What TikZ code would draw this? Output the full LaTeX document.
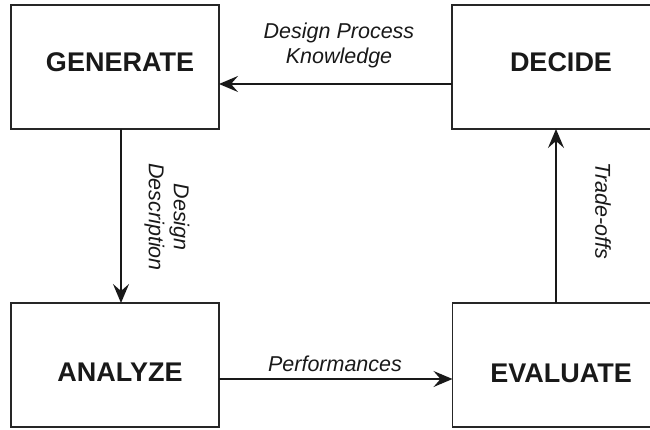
\documentclass[tikz,border=0pt]{standalone}
\usepackage{fontspec}
\setmainfont{Liberation Sans}
\usetikzlibrary{arrows.meta}
\tikzset{
  box/.style={draw=black!85, line width=1.5pt, minimum width=#1, inner sep=0pt, outer sep=0pt},
  boxtext/.style={font=\fontsize{27}{32}\selectfont\bfseries, inner sep=0pt, text=black!90},
  lbl/.style={font=\fontsize{21.5}{25}\selectfont\itshape, inner sep=0pt, text=black!90},
  arr/.style={line width=1.6pt, draw=black!90, -{Stealth[length=19pt,width=16pt,inset=7pt]}}
}
\begin{document}
\begin{tikzpicture}[x=1pt,y=-1pt]
\useasboundingbox (0,0) rectangle (650,430);
% boxes
\node[box=208pt, minimum height=124pt] (gen) at (115,67) {};
\node[box=210pt, minimum height=124pt] (dec) at (557,67) {};
\node[box=208pt, minimum height=124pt] (ana) at (115,365) {};
\node[box=210pt, minimum height=124pt] (eva) at (557.5,365) {};
% box texts
\node[boxtext] (genT) at (120,62) {GENERATE};
\node[boxtext] (decT) at (561,62) {DECIDE};
\node[boxtext] (anaT) at (120,372) {ANALYZE};
\node[boxtext] (evaT) at (561,373) {EVALUATE};
% connectors
\draw[arr] (dec.west |- 0,84) -- (gen.east |- 0,84);
\draw[arr] (gen.south -| 121,0) -- (ana.north -| 121,0);
\draw[arr] (ana.east |- 0,379) -- (eva.west |- 0,379);
\draw[arr] (eva.north -| 556,0) -- (dec.south -| 556,0);
% labels
\node[lbl, align=center] (l1) at (339,45) {Design Process\\Knowledge};
\node[lbl, align=center, rotate=-90] (l2) at (167,217) {Design\\Description};
\node[lbl, anchor=base] (l3) at (335,371) {Performances};
\node[lbl, rotate=-90] (l4) at (603,211) {Trade-offs};
\end{tikzpicture}
\end{document}
